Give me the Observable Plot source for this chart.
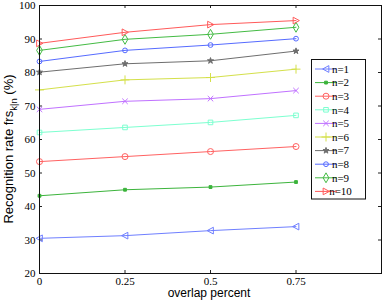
<!DOCTYPE html>
<html>
<head>
<meta charset="utf-8">
<script src="https://cdn.jsdelivr.net/npm/d3@7"></script>
<script src="https://cdn.jsdelivr.net/npm/@observablehq/plot@0.6"></script>
<style>
  html, body { margin: 0; padding: 0; background: white; }
  #chart svg { display: block; }
  #chart svg text { font-family: "Liberation Serif", "Times New Roman", Times, serif; }
  #chart svg text.sans { font-family: "Liberation Sans", Arial, Helvetica, sans-serif; }
</style>
</head>
<body>
<div id="chart"></div>
<script>
// ---- data ----
const overlap = [0, 0.25, 0.5, 0.75];
const xTicks = [0, 0.25, 0.5, 0.75];
const yTicks = [20, 30, 40, 50, 60, 70, 80, 90, 100];
const seriesNames = ["n=1", "n=2", "n=3", "n=4", "n=5", "n=6", "n=7", "n=8", "n=9", "n=10"];
const n1 = [30.5, 31.3, 32.8, 34.0];
const n2 = [43.2, 45.0, 45.8, 47.3];
const n3 = [53.4, 54.9, 56.4, 57.9];
const n4 = [62.1, 63.6, 65.1, 67.2];
const n5 = [69.0, 71.4, 72.2, 74.6];
const n6 = [74.8, 77.8, 78.5, 81.0];
const n7 = [80.1, 82.6, 83.5, 86.4];
const n8 = [83.3, 86.6, 88.2, 90.1];
const n9 = [86.6, 89.9, 91.4, 93.5];
const n10 = [88.7, 92.0, 94.3, 95.5];
const seriesValues = [n1, n2, n3, n4, n5, n6, n7, n8, n9, n10];
const seriesColors = ["#6f7fff", "#3cb43c", "#ff6262", "#7dffd0", "#c071ff", "#d4e04a", "#6e6e6e", "#566bff", "#44bb44", "#ff5a5a"];

// custom symbols
function triSym(dir) {
  return {
    draw(ctx, size) {
      const s = Math.sqrt(size / Math.PI) * 1.05;
      ctx.moveTo(dir * s, 0);
      ctx.lineTo(-dir * s * 0.85, -s);
      ctx.lineTo(-dir * s * 0.85, s);
      ctx.closePath();
    }
  };
}
const symbolTypes = {square: d3.symbolSquare, circle: d3.symbolCircle, times: d3.symbolTimes, plus: d3.symbolPlus, star: d3.symbolStar, diamond: d3.symbolDiamond};
const seriesSymbols = [triSym(-1), "square", "circle", "square", "times", "plus", "star", "circle", "diamond", triSym(1)];
const seriesFill = ["none", "fill", "none", "none", "none", "none", "fill", "none", "none", "none"];
const seriesR = [3.2, 1.6, 3.0, 2.6, 2.6, 3.0, 1.9, 2.4, 3.0, 3.2];

const rows = [];
seriesNames.forEach((name, i) => {
  overlap.forEach((x, j) => rows.push({series: name, idx: i, x, y: seriesValues[i][j]}));
});

const W = 382, H = 301;
const mL = 39, mR = 1, mT = 5, mB = 28;
const plotW = W - mL - mR, plotH = H - mT - mB;

const dotMarks = seriesNames.map((name, i) =>
  Plot.dot(rows.filter(d => d.idx === i), {
    x: "x", y: "y",
    symbol: () => typeof seriesSymbols[i] === "string" ? symbolTypes[seriesSymbols[i]] : seriesSymbols[i],
    r: seriesR[i],
    stroke: seriesColors[i],
    fill: seriesFill[i] === "none" ? "none" : seriesColors[i],
    strokeWidth: 1
  })
);

const chart = Plot.plot({
  width: W, height: H,
  marginLeft: mL, marginRight: mR, marginTop: mT, marginBottom: mB,
  style: {fontFamily: "'Liberation Serif', 'Times New Roman', serif", fontSize: "11px", background: "white", color: "black", overflow: "visible"},
  x: {domain: [0, 1]},
  y: {domain: [20, 100]},
  symbol: {type: "identity"},
  marks: [
    Plot.tickX(xTicks, {x: d => d, insetTop: plotH - 3, stroke: "#222"}),
    Plot.tickX(xTicks, {x: d => d, insetBottom: plotH - 3, stroke: "#222"}),
    Plot.tickY(yTicks, {y: d => d, insetRight: plotW - 3, stroke: "#222"}),
    Plot.tickY(yTicks, {y: d => d, insetLeft: plotW - 3, stroke: "#222"}),
    Plot.axisX({ticks: xTicks, tickSize: 0, tickPadding: 4, label: null, fontSize: 11, tickFormat: d => String(d)}),
    Plot.axisY({ticks: yTicks, tickSize: 0, tickPadding: 4, label: null, fontSize: 11}),
    ...seriesNames.map((name, i) =>
      Plot.line(rows.filter(d => d.idx === i), {x: "x", y: "y", stroke: seriesColors[i], strokeWidth: 1})
    ),
    ...dotMarks,
    Plot.frame({stroke: "#111", strokeWidth: 1})
  ]
});
document.getElementById("chart").appendChild(chart);

// axis titles and legend
const svg = d3.select(chart);
svg.append("text")
  .attr("class", "sans")
  .attr("x", 209).attr("y", 297)
  .attr("text-anchor", "middle")
  .attr("font-size", 12)
  .attr("fill", "black")
  .text("overlap percent");

const yl = svg.append("text")
  .attr("class", "sans")
  .attr("transform", "translate(13,149) rotate(-90)")
  .attr("text-anchor", "middle")
  .attr("font-size", 13)
  .attr("fill", "black");
yl.append("tspan").text("Recognition rate frs");
yl.append("tspan").attr("font-size", 9.5).attr("dy", 3.5).text("k|n");
yl.append("tspan").attr("dy", -3.5).text(" (%)");

const lg = svg.append("g").attr("transform", "translate(311.5,59.5)");
lg.append("rect").attr("width", 54).attr("height", 139.5)
  .attr("fill", "white").attr("stroke", "#111").attr("stroke-width", 1);
seriesNames.forEach((name, i) => {
  const yy = 9.5 + i * 13.6;
  lg.append("line").attr("x1", 3.5).attr("x2", 25.5).attr("y1", yy).attr("y2", yy)
    .attr("stroke", seriesColors[i]).attr("stroke-width", 1);
  const type = typeof seriesSymbols[i] === "string" ? symbolTypes[seriesSymbols[i]] : seriesSymbols[i];
  lg.append("path")
    .attr("transform", `translate(14.5,${yy})`)
    .attr("d", d3.symbol(type, Math.PI * seriesR[i] * seriesR[i])())
    .attr("fill", seriesFill[i] === "none" ? "none" : seriesColors[i])
    .attr("stroke", seriesColors[i]).attr("stroke-width", 1);
  lg.append("text").attr("x", 29).attr("y", yy).attr("dy", "0.35em")
    .attr("font-size", 11).attr("fill", "black")
    .text(name);
});
</script>
</body>
</html>
